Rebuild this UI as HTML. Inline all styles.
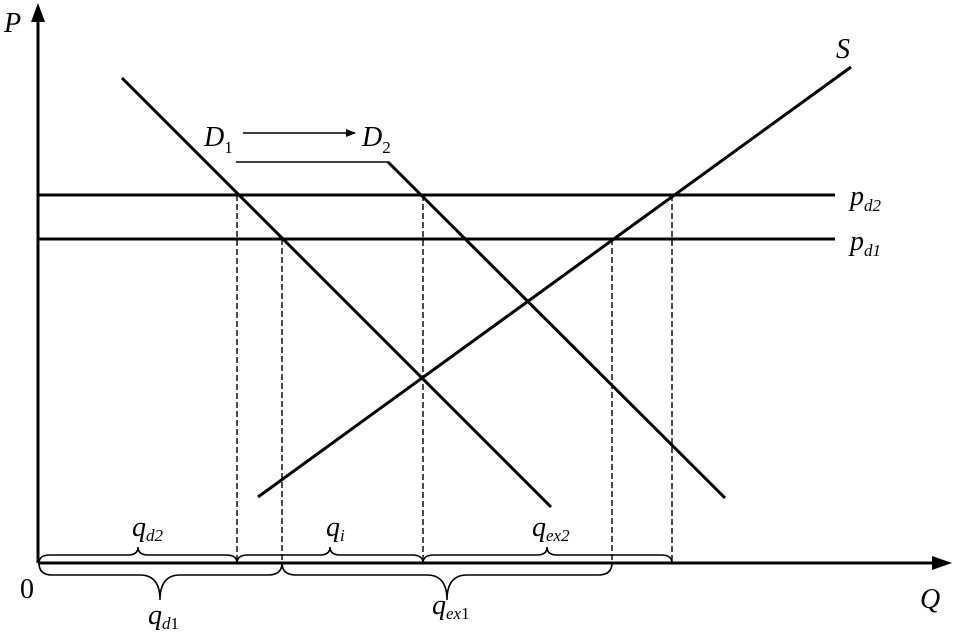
<!DOCTYPE html>
<html><head><style>body{margin:0;background:#fff}svg{display:block}text{font-family:"Liberation Serif",serif;font-style:italic;fill:#000}</style></head>
<body>
<svg width="964" height="637" viewBox="0 0 964 637">
<defs><marker id="ah" markerWidth="10" markerHeight="8" refX="9" refY="4" orient="auto" markerUnits="userSpaceOnUse"><path d="M0,0 L10,4 L0,8 z"/></marker></defs>
<g stroke="#000" fill="none">
<line x1="38" y1="563" x2="38" y2="18" stroke-width="3"/>
<path d="M31,22 L38,3 L45,22 z" fill="#000" stroke="none"/>
<line x1="38" y1="563" x2="935" y2="563" stroke-width="3"/>
<path d="M932,556 L952,563 L932,570 z" fill="#000" stroke="none"/>
<line x1="38" y1="195" x2="835" y2="195" stroke-width="3"/>
<line x1="38" y1="239" x2="835" y2="239" stroke-width="3"/>
<line x1="122" y1="78" x2="551" y2="507" stroke-width="3"/>
<line x1="388" y1="162" x2="725" y2="498" stroke-width="3"/>
<line x1="236" y1="162" x2="389" y2="162" stroke-width="1.5"/>
<line x1="258" y1="497" x2="851" y2="67" stroke-width="3"/>
<line x1="243" y1="133" x2="355" y2="133" stroke-width="1.5" marker-end="url(#ah)"/>
<g stroke-width="1.4" stroke-dasharray="6,3">
<line x1="237" y1="195" x2="237" y2="563"/>
<line x1="282" y1="239" x2="282" y2="563"/>
<line x1="423" y1="195" x2="423" y2="563"/>
<line x1="612" y1="239" x2="612" y2="563"/>
<line x1="672" y1="195" x2="672" y2="563"/>
</g>
<g stroke-width="1.6">
<path d="M39,563 Q39,555 50,555 L128,555 Q138,555 138,547 Q138,555 148,555 L226,555 Q237,555 237,563"/>
<path d="M237,563 Q237,555 248,555 L320,555 Q330,555 330,547 Q330,555 340,555 L412,555 Q423,555 423,563"/>
<path d="M423,563 Q423,555 434,555 L537,555 Q547,555 547,547 Q547,555 557,555 L661,555 Q672,555 672,563"/>
<path d="M39,563 Q39,575 52,575 L140,575 Q160,575 160,600 Q160,575 180,575 L268,575 Q282,575 282,563"/>
<path d="M282,563 Q282,575 296,575 L427,575 Q447,575 447,600 Q447,575 467,575 L598,575 Q612,575 612,563"/>
</g>
</g>
<text x="4" y="32" font-size="28">P</text>
<text x="836" y="58" font-size="28">S</text>
<text x="850" y="205" font-size="28">p<tspan font-size="17" dy="6">d2</tspan></text>
<text x="850" y="250" font-size="28">p<tspan font-size="17" dy="6">d1</tspan></text>
<text x="920" y="608" font-size="28">Q</text>
<text x="20" y="598" font-size="28" style="font-style:normal">0</text>
<text x="204" y="146" font-size="28">D<tspan font-size="17" dy="7" style="font-style:normal">1</tspan></text>
<text x="362" y="146" font-size="28">D<tspan font-size="17" dy="7" style="font-style:normal">2</tspan></text>
<text x="132" y="536" font-size="28">q<tspan font-size="17" dy="5">d2</tspan></text>
<text x="326" y="536" font-size="28">q<tspan font-size="17" dy="5">i</tspan></text>
<text x="532" y="536" font-size="28">q<tspan font-size="17" dy="5">ex2</tspan></text>
<text x="148" y="624" font-size="28">q<tspan font-size="17" dy="5">d<tspan style="font-style:normal">1</tspan></tspan></text>
<text x="432" y="614" font-size="28">q<tspan font-size="17" dy="5">ex<tspan style="font-style:normal">1</tspan></tspan></text>
</svg>
</body></html>
